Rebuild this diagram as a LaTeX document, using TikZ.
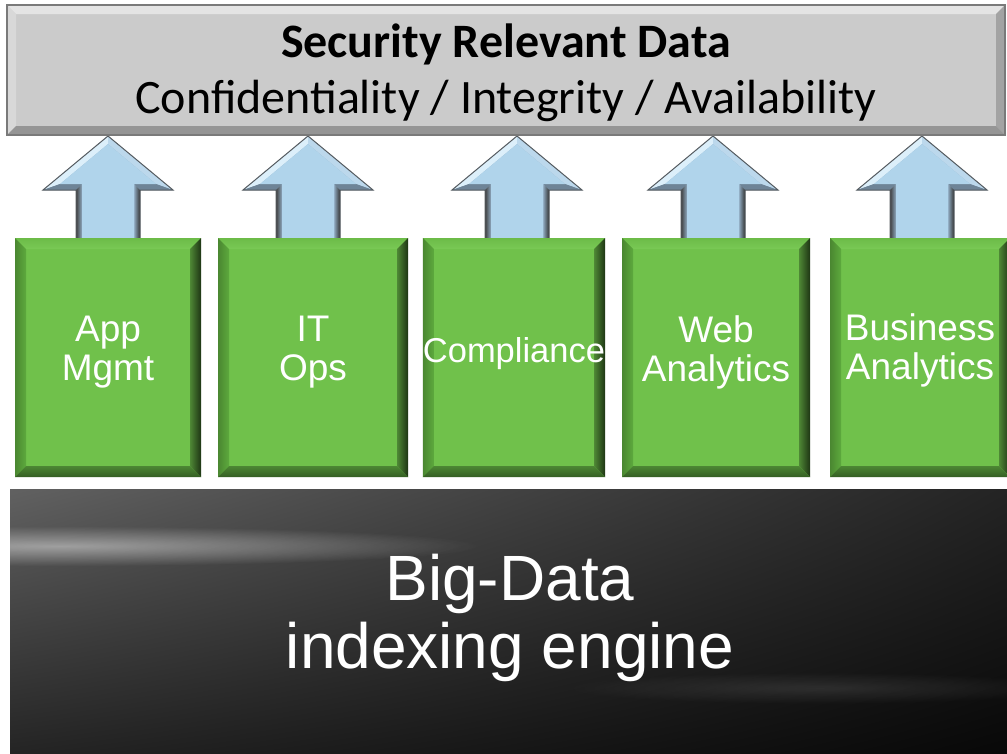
\documentclass[tikz,border=0pt]{standalone}
\usepackage{fontspec}
\setmainfont{Carlito}
\newfontfamily\arialf{Liberation Sans}
\usetikzlibrary{calc,fadings,shadings}
\pgfdeclarelayer{back}
\pgfdeclarelayer{mid}
\pgfsetlayers{back,mid,main}
\definecolor{grayfill}{HTML}{CBCBCB}
\definecolor{graytop}{HTML}{E4E4E4}
\definecolor{grayleft}{HTML}{D8D8D8}
\definecolor{grayright}{HTML}{A3A3A3}
\definecolor{graybot}{HTML}{959595}
\definecolor{grayedge}{HTML}{7A7A7A}
\definecolor{gfill}{HTML}{70C14B}
\definecolor{gtopa}{HTML}{6CBB48}
\definecolor{gtopb}{HTML}{A6EE80}
\definecolor{gtopc}{HTML}{79C955}
\definecolor{gleft}{HTML}{5DA93D}
\definecolor{gright}{HTML}{1E3514}
\definecolor{gbot}{HTML}{4C8733}
\definecolor{afill}{HTML}{B0D4EB}
\definecolor{abase}{HTML}{8FAAC0}
\definecolor{ahl}{HTML}{DCEFFA}
\definecolor{ahr}{HTML}{BCD8EC}
\definecolor{aunder}{HTML}{6E8497}
\definecolor{aedge}{HTML}{555B60}
\tikzfading[name=glow, inner color=transparent!0, outer color=transparent!100]
\newcommand\greenbevel[1]{%
  \fill[gfill] (#1.north west) rectangle (#1.south east);
  \shade[top color=gtopa, middle color=gtopb, bottom color=gtopc]
    (#1.north west) -- (#1.north east) -- ($(#1.north east)+(-11,11)$) -- ($(#1.north west)+(11,11)$) -- cycle;
  \shade[left color=gleft!80!black, right color=gleft]
    (#1.north west) -- ($(#1.north west)+(11,11)$) -- ($(#1.south west)+(11,-11)$) -- (#1.south west) -- cycle;
  \shade[left color=gfill!70!black, right color=gright]
    (#1.north east) -- (#1.south east) -- ($(#1.south east)+(-11,-11)$) -- ($(#1.north east)+(-11,11)$) -- cycle;
  \shade[top color=gbot, bottom color=gbot!70!black]
    (#1.south west) -- (#1.south east) -- ($(#1.south east)+(-11,-11)$) -- ($(#1.south west)+(11,-11)$) -- cycle;
}
\newcommand\graybevel[1]{%
  \fill[grayfill] (#1.north west) rectangle (#1.south east);
  \fill[graytop] (#1.north west) -- (#1.north east) -- ($(#1.north east)+(-9,9)$) -- ($(#1.north west)+(9,9)$) -- cycle;
  \fill[grayleft] (#1.north west) -- ($(#1.north west)+(9,9)$) -- ($(#1.south west)+(9,-9)$) -- (#1.south west) -- cycle;
  \fill[grayright] (#1.north east) -- (#1.south east) -- ($(#1.south east)+(-9,-9)$) -- ($(#1.north east)+(-9,9)$) -- cycle;
  \fill[graybot] (#1.south west) -- (#1.south east) -- ($(#1.south east)+(-9,-9)$) -- ($(#1.south west)+(9,-9)$) -- cycle;
  \draw[grayedge, line width=1.2pt] (#1.north west) rectangle (#1.south east);
}
\newcommand\uparr[1]{%
  \fill[abase] (#1,136) -- ({#1-65},190) -- ({#1-32},190) -- ({#1-32},242) -- ({#1+32},242) -- ({#1+32},190) -- ({#1+65},190) -- cycle;
  \fill[ahl] (#1,136) -- ({#1-65},190) -- ({#1-48},184) -- (#1,144) -- cycle;
  \fill[ahr] (#1,136) -- ({#1+65},190) -- ({#1+48},184) -- (#1,144) -- cycle;
  \fill[aunder] ({#1-65},190) -- ({#1-32},190) -- ({#1-26},184) -- ({#1-48},184) -- cycle;
  \fill[aunder] ({#1+65},190) -- ({#1+32},190) -- ({#1+26},184) -- ({#1+48},184) -- cycle;
  \shade[left color=black!75, right color=abase] ({#1-32},190) -- ({#1-32},242) -- ({#1-26},242) -- ({#1-26},184) -- cycle;
  \shade[left color=abase, right color=black!80] ({#1+26},184) -- ({#1+26},242) -- ({#1+32},242) -- ({#1+32},190) -- cycle;
  \fill[afill] (#1,144) -- ({#1-48},184) -- ({#1-26},184) -- ({#1-26},242) -- ({#1+26},242) -- ({#1+26},184) -- ({#1+48},184) -- cycle;
  \draw[aedge, line width=1pt, line join=miter] ({#1-32},242) -- ({#1-32},190) -- ({#1-65},190) -- (#1,136) -- ({#1+65},190) -- ({#1+32},190) -- ({#1+32},242);
}
\begin{document}
\begin{tikzpicture}[x=1pt,y=-1pt,
  graybox/.style={minimum width=998pt, minimum height=130pt, inner sep=0pt, outer sep=0pt,
    align=center, text height=90pt, text depth=4pt, font=\fontsize{48}{56}\selectfont},
  greenbox/.style={minimum height=239pt, inner sep=0pt, outer sep=0pt, align=center,
    text=white, font=\arialf\fontsize{37}{39}\selectfont},
  enginebox/.style={minimum width=1000pt, minimum height=266pt, inner sep=0pt, outer sep=0pt,
    align=center, text=white, text height=115pt, text depth=23pt,
    font=\arialf\fontsize{64}{68}\selectfont}]
\useasboundingbox (0,0) rectangle (1007,753);
\clip (0,0) rectangle (1007,753);
\begin{pgfonlayer}{back}
\fill[white] (0,0) rectangle (1007,753);
\end{pgfonlayer}

% top box
\node[graybox] (top) at (506,70) {{\bfseries\fontsize{48}{56}\selectfont Security Relevant Data}\\Confidentiality / Integrity / Availability};
\begin{pgfonlayer}{mid}\graybevel{top}\end{pgfonlayer}

% green boxes
\node[greenbox, minimum width=186pt, text height=60pt, text depth=15pt] (app) at (108,357.5) {App\\Mgmt};
\node[greenbox, minimum width=190pt, text height=60pt, text depth=15pt] (itops) at (313,357.5) {IT\\Ops};
\node[greenbox, minimum width=182pt, text height=20pt, text depth=11pt, font=\arialf\fontsize{34.5}{39}\selectfont] (comp) at (514,357.5) {Compliance};
\node[greenbox, minimum width=188pt, text height=60pt, text depth=13pt] (web) at (716,357.5) {Web\\Analytics};
\node[greenbox, minimum width=180pt, text height=60pt, text depth=17pt] (bus) at (920,357.5) {Business\\Analytics};
\begin{pgfonlayer}{mid}
\greenbevel{app}\greenbevel{itops}\greenbevel{comp}\greenbevel{web}\greenbevel{bus}
\end{pgfonlayer}

% arrows
\begin{pgfonlayer}{back}
\uparr{108}\uparr{308}\uparr{517}\uparr{713}\uparr{922}
\end{pgfonlayer}

% engine box
\node[enginebox] (engine) at (510,622) {Big-Data\\indexing engine};
\begin{pgfonlayer}{mid}
\shade[upper left=black!62, upper right=black!86, lower left=black!86, lower right=black!97]
  (engine.north west) rectangle (engine.south east);
\fill[white, opacity=0.45, path fading=glow] (60,546) ellipse [x radius=420, y radius=20];
\fill[white, opacity=0.10, path fading=glow] (820,688) ellipse [x radius=260, y radius=16];
\end{pgfonlayer}
\end{tikzpicture}
\end{document}
